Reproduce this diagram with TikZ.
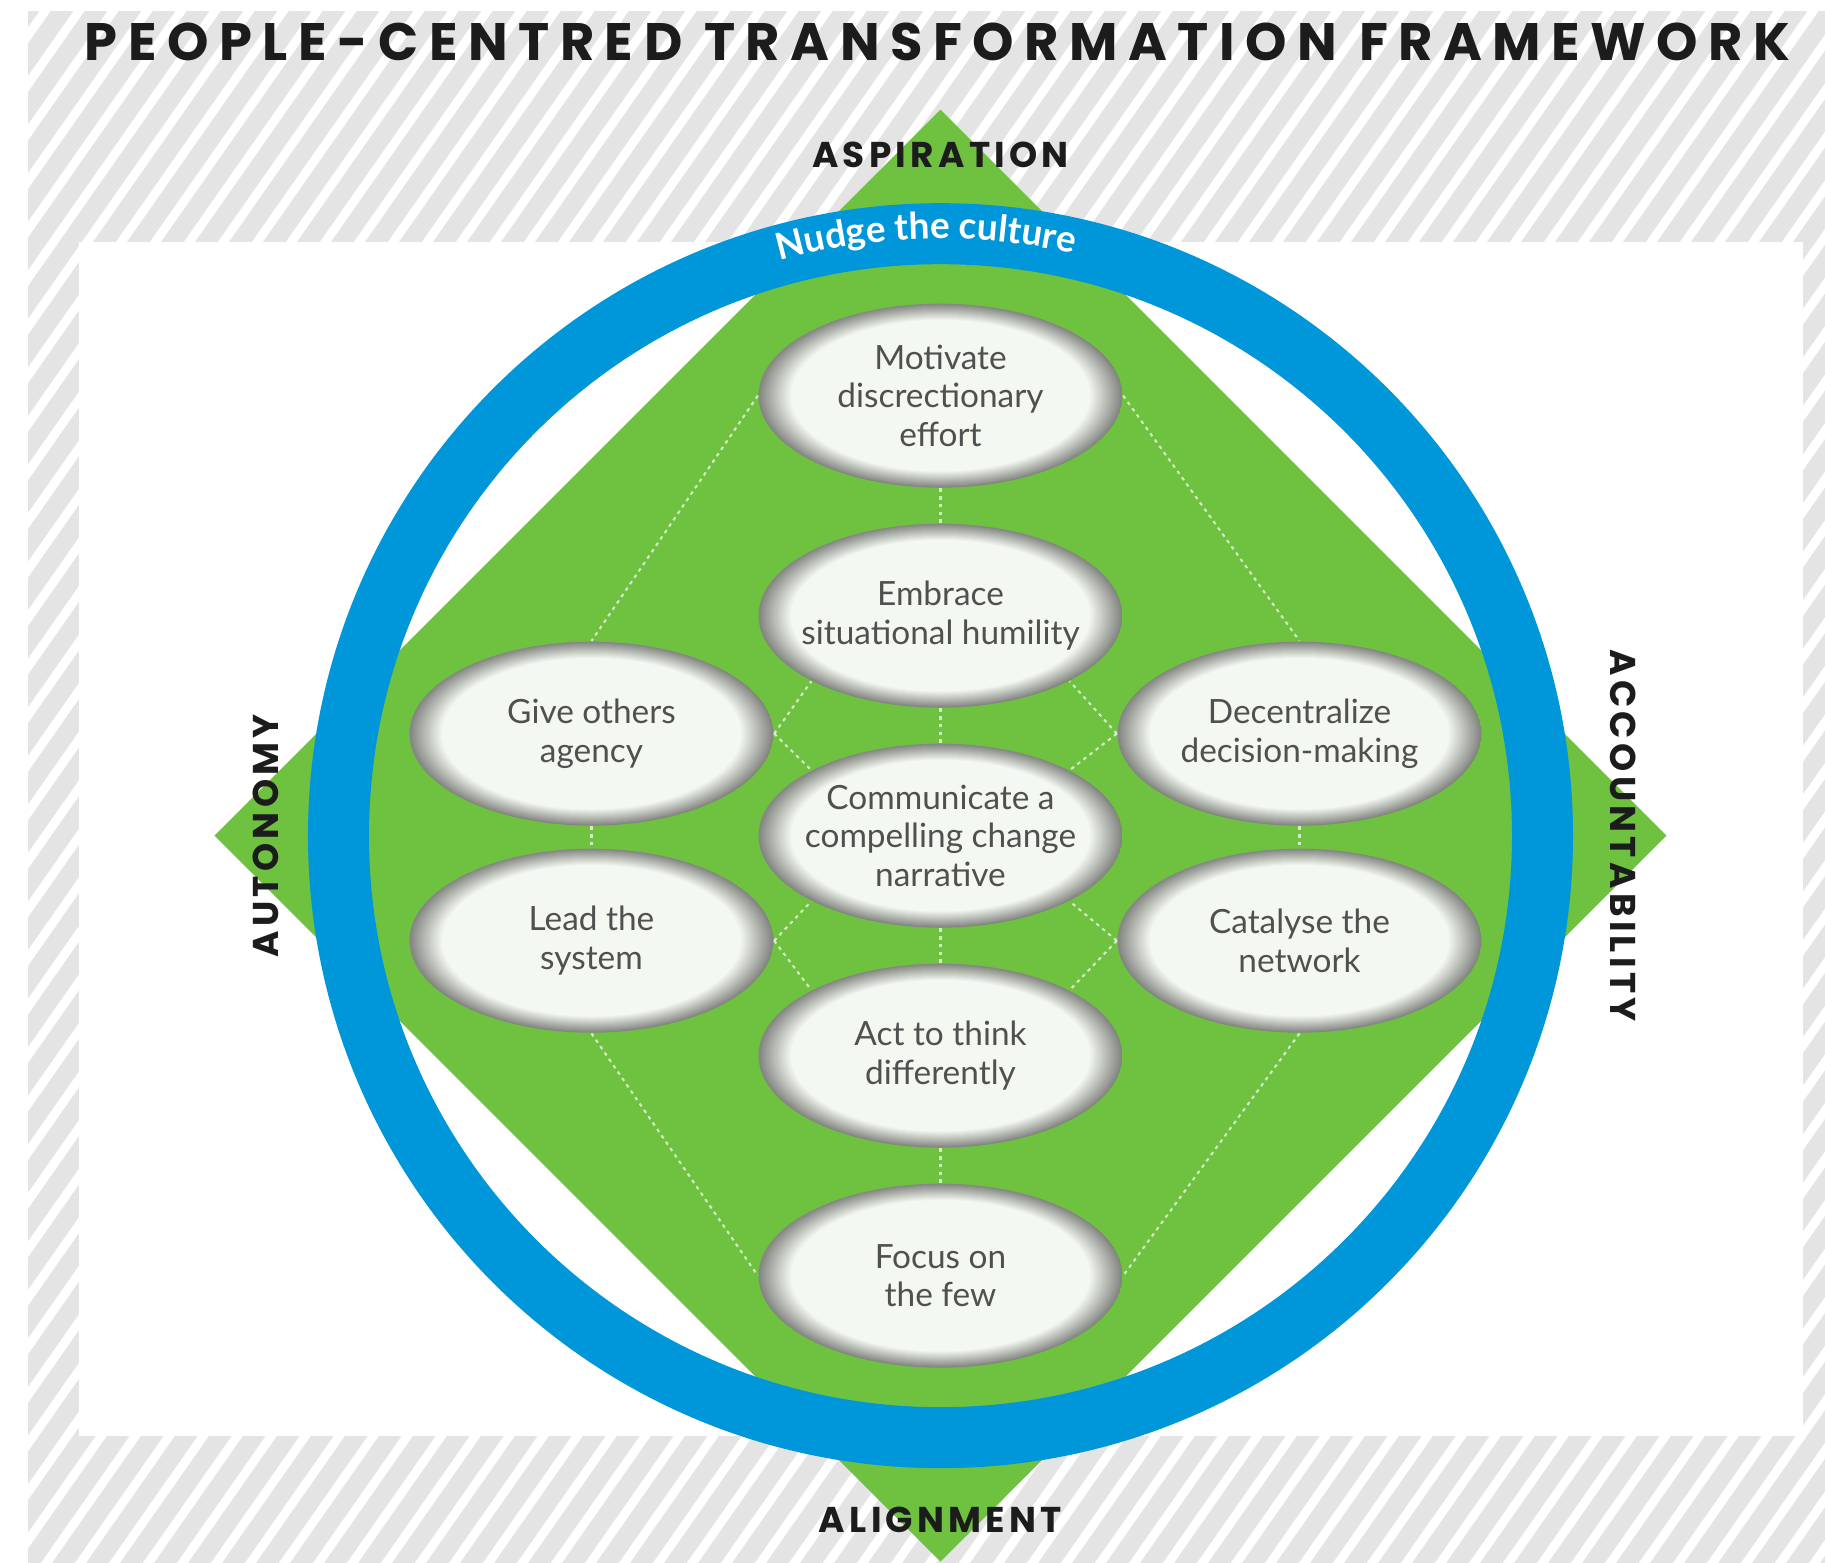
\documentclass[tikz,border=0pt]{standalone}
\usepackage{fontspec}
\setmainfont{Lato}
\newfontfamily\headfont{Poppins}[LetterSpace=20]
\newfontfamily\axisfont{Poppins}[LetterSpace=12]
\usetikzlibrary{shapes.geometric,decorations.text}

\definecolor{leaf}{RGB}{110,194,64}
\definecolor{ringblue}{RGB}{0,150,218}
\definecolor{stripe}{RGB}{228,228,228}
\definecolor{ovalfill}{RGB}{243,249,240}
\definecolor{ovalrim}{RGB}{132,134,130}
\definecolor{ovaltext}{RGB}{80,80,80}
\definecolor{ink}{RGB}{28,28,28}

\begin{document}
\begin{tikzpicture}[
  oval/.style={ellipse, minimum width=3.64cm, minimum height=1.84cm,
    inner xsep=-6mm, inner ysep=-4mm, align=center, text=ovaltext,
    font=\fontsize{9.5}{10.9}\selectfont,
    path picture={
      \foreach \i in {0,...,16}
        \fill[ovalfill!\the\numexpr\i*100/16\relax!ovalrim]
          (path picture bounding box.center)
          ellipse [x radius={(1-0.011*\i)*1.82cm}, y radius={(1-0.011*\i)*0.92cm}];}},
  link/.style={draw=white, opacity=0.7, line width=0.6pt,
    dash pattern=on 1pt off 1.2pt},
  axis/.style={text=ink, font=\axisfont\bfseries\fontsize{10.2}{12}\selectfont}]

\fill[white] (-9.405,-7.273) rectangle (8.845,8.357);
\useasboundingbox (-9.405,-7.273) rectangle (8.845,8.357);

% striped surround
\begin{scope}
\clip (-9.125,-7.273) rectangle (8.845,8.247);
\fill[stripe] (-9.125,-7.273) rectangle (8.845,8.247);
\foreach \k in {0,...,96}
  \draw[white, line width=0.09cm] (-21+\k*0.34,-7.5) -- ++(55:19.8);
\end{scope}
\fill[white] (-8.615,-6.0) rectangle (8.625,5.94);

% diamond
\fill[leaf] (0,7.26) -- (7.26,0) -- (0,-7.26) -- (-7.26,0) -- cycle;

\node[oval] (mot) at (0,4.40) {Motivate\\discrectionary\\effort};
\node[oval] (emb) at (0,2.20) {Embrace\\situational humility};
\node[oval] (give) at (-3.49,1.02) {Give others\\agency};
\node[oval] (dec) at (3.59,1.02) {Decentralize\\decision-making};
\node[oval] (com) at (0,0) {Communicate a\\compelling change\\narrative};
\node[oval] (lead) at (-3.49,-1.05) {Lead the\\system};
\node[oval] (cat) at (3.59,-1.05) {Catalyse the\\network};
\node[oval] (act) at (0,-2.20) {Act to think\\differently};
\node[oval] (foc) at (0,-4.40) {Focus on\\the few};

\draw[link] (mot) -- (emb);
\draw[link] (emb) -- (com);
\draw[link] (com) -- (act);
\draw[link] (act) -- (foc);
\draw[link] (give) -- (lead);
\draw[link] (dec) -- (cat);
\draw[link] (mot.west) -- (give.north);
\draw[link] (mot.east) -- (dec.north);
\draw[link] (give.east) -- (emb.south west);
\draw[link] (give.east) -- (com.north west);
\draw[link] (lead.east) -- (com.south west);
\draw[link] (lead.east) -- (act.north west);
\draw[link] (dec.west) -- (emb.south east);
\draw[link] (dec.west) -- (com.north east);
\draw[link] (cat.west) -- (com.south east);
\draw[link] (cat.west) -- (act.north east);
\draw[link] (lead.south) -- (foc.west);
\draw[link] (cat.south) -- (foc.east);

% ring
\draw[ringblue, line width=0.61cm] (0,0) circle (6.02);
\path[decorate, decoration={text along path, text align=center,
    text color=white, text={|\bfseries\fontsize{10.5}{12}\selectfont|Nudge the culture}}]
  (122.4:5.97) arc[start angle=122.4, end angle=60.4, radius=5.97];

\node[axis] (asp) at (0,6.81) {ASPIRATION};
\node[axis] (ali) at (0,-6.84) {ALIGNMENT};
\node[axis, rotate=90] (aut) at (-6.75,0) {AUTONOMY};
\node[axis, rotate=-90] (acc) at (6.83,0) {ACCOUNTABILITY};

\node[text=ink, font=\headfont\bfseries\fontsize{15}{18}\selectfont] (title)
  at (-0.03,7.94) {PEOPLE-CENTRED TRANSFORMATION FRAMEWORK};
\end{tikzpicture}
\end{document}
